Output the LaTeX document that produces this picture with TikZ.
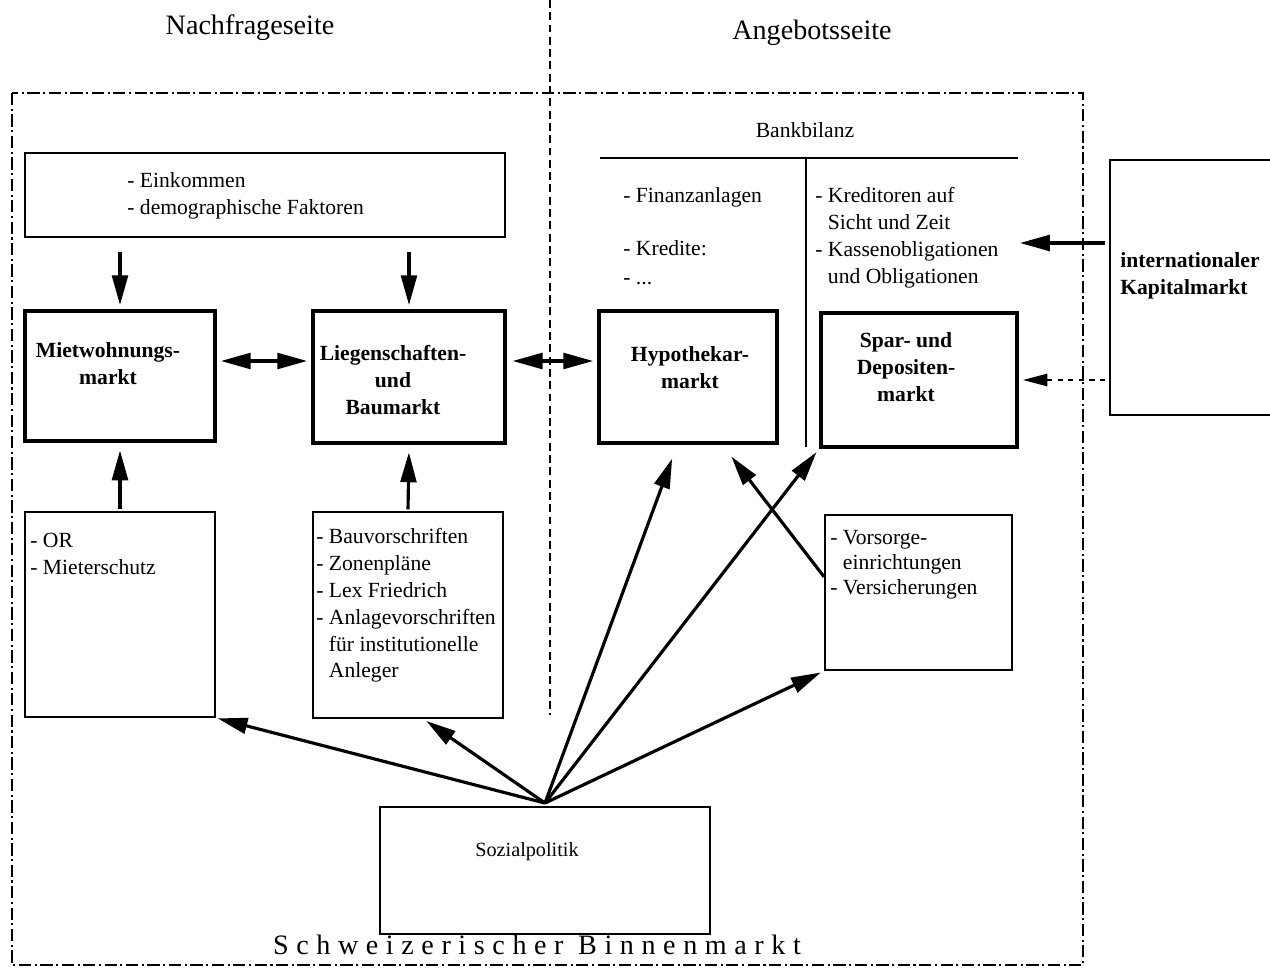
\documentclass[tikz,border=0pt]{standalone}
\usepackage{fontspec}
\setmainfont{Liberation Serif}
\newfontfamily\spacedfont[LetterSpace=27]{Liberation Serif}
\usetikzlibrary{arrows.meta,calc}
\begin{document}
\begin{tikzpicture}[x=0.02cm,y=-0.02cm,
  thickbox/.style={draw,line width=2.7pt,inner sep=0pt},
  thinbox/.style={draw,line width=1.1pt,inner sep=0pt},
  txt/.style={inner sep=0pt,font=\fontsize{12.3}{15.3}\selectfont,align=left,anchor=north west},
  btxt/.style={inner sep=0pt,font=\fontsize{12.3}{15.3}\selectfont\bfseries,align=center,anchor=north},
  titletxt/.style={inner sep=0pt,font=\fontsize{16}{19}\selectfont},
  arr/.style={line width=1.8pt,-{Triangle[length=17pt,width=9pt]}},
  darr/.style={line width=1.8pt,{Triangle[length=17pt,width=9pt]}-{Triangle[length=17pt,width=9pt]}},
  outerframe/.style={line width=1pt,dash pattern=on 7pt off 2pt on 1.2pt off 2pt},
  divider/.style={line width=1.1pt,dash pattern=on 4.5pt off 2.5pt},
]
\useasboundingbox (0,0) rectangle (1270,972);

% titles
\node[titletxt] (nach) at (250,28) {Nachfrageseite};
\node[titletxt] (ange) at (812,33) {Angebotsseite};
\node[titletxt,font=\fontsize{16}{19}\spacedfont] (binnen) at (537,945) {Schweizerischer Binnenmarkt};

% frame and divider
\draw[outerframe] (12,93) rectangle (1083,965);
\draw[divider] (550,0) -- (550,715);

% boxes
\node[thinbox,minimum width=9.6cm,minimum height=1.68cm] (eink) at (265,195) {};
\node[thickbox,minimum width=3.8cm,minimum height=2.6cm] (miet) at (120,376) {};
\node[thickbox,minimum width=3.84cm,minimum height=2.64cm] (lieg) at (409,377) {};
\node[thickbox,minimum width=3.56cm,minimum height=2.64cm] (hyp) at (688,377) {};
\node[thickbox,minimum width=3.92cm,minimum height=2.68cm] (spar) at (919,380) {};
\node[thinbox,minimum width=3.8cm,minimum height=4.1cm] (or) at (120,614.5) {};
\node[thinbox,minimum width=3.8cm,minimum height=4.12cm] (bau) at (408,615) {};
\node[thinbox,minimum width=3.74cm,minimum height=3.1cm] (vor) at (918.5,592.5) {};
\node[thinbox,minimum width=6.6cm,minimum height=2.54cm] (soz) at (545,870.5) {};
\begin{scope}
\clip (0,0) rectangle (1270,972);
\node[draw,line width=1.6pt,inner sep=0pt,minimum width=3.8cm,minimum height=5.1cm] (intl) at (1205,287.5) {};
\end{scope}

% texts in boxes
\node[txt] (einkt) at (127,172) {- Einkommen\\- demographische Faktoren};
\node[btxt] (mietT) at (108,342) {Mietwohnungs-\\markt};
\node[btxt] (liegT) at (393,345) {Liegenschaften-\\und\\Baumarkt};
\node[btxt] (hypT) at (690,346) {Hypothekar-\\markt};
\node[btxt] (sparT) at (906,332) {Spar- und\\Depositen-\\markt};
\node[txt,font=\fontsize{12.3}{15.3}\selectfont\bfseries] (intlT) at (1120,252) {internationaler\\Kapitalmarkt};
\node[txt] (orT) at (30,533) {- OR\\- Mieterschutz};
\node[txt] (bauT) at (316,528) {- Bauvorschriften\\- Zonenpläne\\- Lex Friedrich\\- Anlagevorschriften\\\phantom{- }für institutionelle\\\phantom{- }Anleger};
\node[txt,font=\fontsize{12.3}{14.3}\selectfont] (vorT) at (830,530) {- Vorsorge-\\\phantom{- }einrichtungen\\- Versicherungen};
\node[inner sep=0pt,font=\fontsize{11.5}{14}\selectfont] (sozT) at (527,852) {Sozialpolitik};

% Bankbilanz
\node[inner sep=0pt,font=\fontsize{12.3}{15.3}\selectfont] (bank) at (805,130) {Bankbilanz};
\coordinate (bbl) at (600,158);
\coordinate (bbr) at (1018,158);
\coordinate (bbm) at (806,158);
\coordinate (bbb) at (806,447);
\draw[line width=1.3pt] (bbl) -- (bbr);
\draw[line width=1.3pt] (bbm) -- (bbb);
\node[txt] (aktiv) at (623,187) {- Finanzanlagen\\[15pt]- Kredite:\\[1pt]- ...};
\node[txt] (passiv) at (815,187) {- Kreditoren auf\\\phantom{- }Sicht und Zeit\\- Kassenobligationen\\\phantom{- }und Obligationen};
\coordinate (kasse) at (1020,243);

% arrows
\draw[arr,shorten <=8pt,shorten >=2pt] (miet.north |- eink.south) -- (miet.north);
\draw[arr,shorten <=8pt,shorten >=2pt] (lieg.north |- eink.south) -- (lieg.north);
\draw[arr,shorten <=1pt,shorten >=4pt] (or.north) -- (miet.south);
\draw[arr,shorten <=1pt,shorten >=4pt] (bau.north) -- (lieg.south);
\draw[darr,shorten <=2pt,shorten >=2pt] (miet.east |- 0,361) -- (lieg.west |- 0,361);
\draw[darr,shorten <=3pt,shorten >=2pt] (lieg.east |- 0,361) -- (hyp.west |- 0,361);
\draw[arr,shorten <=2pt] (intl.west |- kasse) -- (kasse);
\draw[line width=1.2pt,dashed,-{Triangle[length=14pt,width=7pt]},shorten <=2pt,shorten >=2pt] (intl.west |- spar.east) -- (spar.east);

% fan from Sozialpolitik
\coordinate (fan) at ($(soz.north)+(0,-3)$);
\draw[arr,shorten >=1pt] (fan) -- (or.south east);
\draw[arr,shorten >=2pt] (fan) -- ($(bau.south west)!0.58!(bau.south east)$);
\draw[arr,shorten >=8pt] (fan) -- ($(hyp.south west)!0.44!(hyp.south east)$);
\draw[arr,shorten >=2pt] (fan) -- (spar.south west);
\draw[arr,shorten >=2pt] (fan) -- (vor.south west);
\draw[arr,shorten >=8pt] ($(vor.north west)!0.4!(vor.south west)$) -- ($(hyp.south west)!0.69!(hyp.south east)$);
\end{tikzpicture}
\end{document}
